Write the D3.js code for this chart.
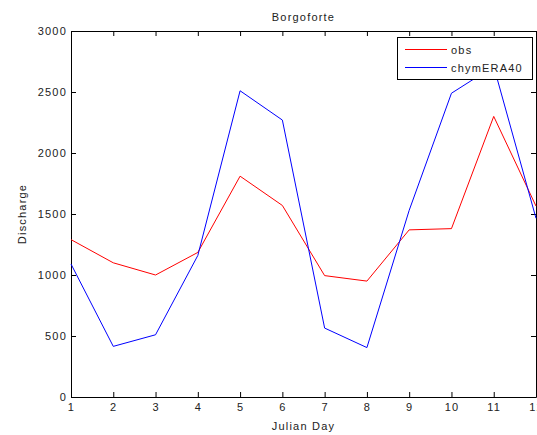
<!DOCTYPE html>
<html>
<head>
<meta charset="utf-8">
<script src="https://cdn.jsdelivr.net/npm/d3@7"></script>
<style>
  html, body { margin: 0; padding: 0; background: #fff; }
  svg { display: block; }
  text { font-family: "Liberation Sans", Arial, Helvetica, sans-serif; font-size: 11px; letter-spacing: 1.2px; fill: #222; }
</style>
</head>
<body>
<svg id="chart" width="537" height="435"></svg>
<script>
// Julian day index and discharge series
const days = [1, 2, 3, 4, 5, 6, 7, 8, 9, 10, 11, 12];
const obs = [1290, 1100, 1000, 1185, 1810, 1570, 995, 950, 1370, 1380, 2300, 1565];
const chymERA40 = [1090, 415, 510, 1160, 2510, 2270, 565, 405, 1530, 2490, 2710, 1465];
const yTicks = [0, 500, 1000, 1500, 2000, 2500, 3000];
const seriesNames = ["obs", "chymERA40"];
const seriesColors = ["#ff0000", "#0000ff"];

const svg = d3.select("#chart");
const plot = { left: 71, right: 536, top: 31, bottom: 397 };

const x = d3.scaleLinear().domain([1, 12]).range([plot.left, plot.right]);
const y = d3.scaleLinear().domain([0, 3000]).range([plot.bottom, plot.top]);

// plot box background
svg.append("rect")
  .attr("x", plot.left).attr("y", plot.top)
  .attr("width", plot.right - plot.left).attr("height", plot.bottom - plot.top)
  .attr("fill", "#fff").attr("stroke", "none");

// axes with inward ticks on all four sides
function styleAxis(g) {
  g.selectAll("path").attr("stroke", "#000").attr("stroke-width", 1);
  g.selectAll("line").attr("stroke", "#000").attr("stroke-width", 1);
  g.selectAll("text").style("font-size", "11px").attr("fill", "#222");
}

svg.append("g").attr("transform", `translate(0,${plot.bottom})`)
  .call(d3.axisBottom(x).tickValues(days).tickFormat(d3.format("d")).tickSizeInner(-5).tickSizeOuter(0).tickPadding(6))
  .call(styleAxis);
svg.append("g").attr("transform", `translate(0,${plot.top})`)
  .call(d3.axisTop(x).tickValues(days).tickFormat("").tickSizeInner(-5).tickSizeOuter(0))
  .call(styleAxis);
svg.append("g").attr("transform", `translate(${plot.left},0)`)
  .call(d3.axisLeft(y).tickValues(yTicks).tickFormat(d3.format("d")).tickSizeInner(-5).tickSizeOuter(0).tickPadding(4))
  .call(styleAxis);
svg.append("g").attr("transform", `translate(${plot.right},0)`)
  .call(d3.axisRight(y).tickValues(yTicks).tickFormat("").tickSizeInner(-5).tickSizeOuter(0))
  .call(styleAxis);

// data lines
const line = d3.line().x((d, i) => x(days[i])).y(d => y(d));
[obs, chymERA40].forEach((s, k) => {
  svg.append("path")
    .datum(s)
    .attr("d", line)
    .attr("fill", "none")
    .attr("stroke", seriesColors[k])
    .attr("stroke-width", 1);
});

// title and axis labels
svg.append("text").attr("x", (plot.left + plot.right) / 2).attr("y", 21)
  .attr("text-anchor", "middle").text("Borgoforte");
svg.append("text").attr("x", (plot.left + plot.right) / 2).attr("y", 430)
  .attr("text-anchor", "middle").text("Julian Day");
svg.append("text")
  .attr("transform", `translate(26,${(plot.top + plot.bottom) / 2}) rotate(-90)`)
  .attr("text-anchor", "middle").text("Discharge");

// legend
const lg = svg.append("g");
lg.append("rect")
  .attr("x", 397.5).attr("y", 37.5).attr("width", 135).attr("height", 42)
  .attr("fill", "#fff").attr("stroke", "#000").attr("stroke-width", 1);
seriesNames.forEach((name, k) => {
  const yy = 49.5 + k * 18;
  lg.append("line")
    .attr("x1", 405).attr("x2", 447).attr("y1", yy).attr("y2", yy)
    .attr("stroke", seriesColors[k]).attr("stroke-width", 1);
  lg.append("text").attr("x", 451).attr("y", yy + 4).text(name);
});
</script>
</body>
</html>
